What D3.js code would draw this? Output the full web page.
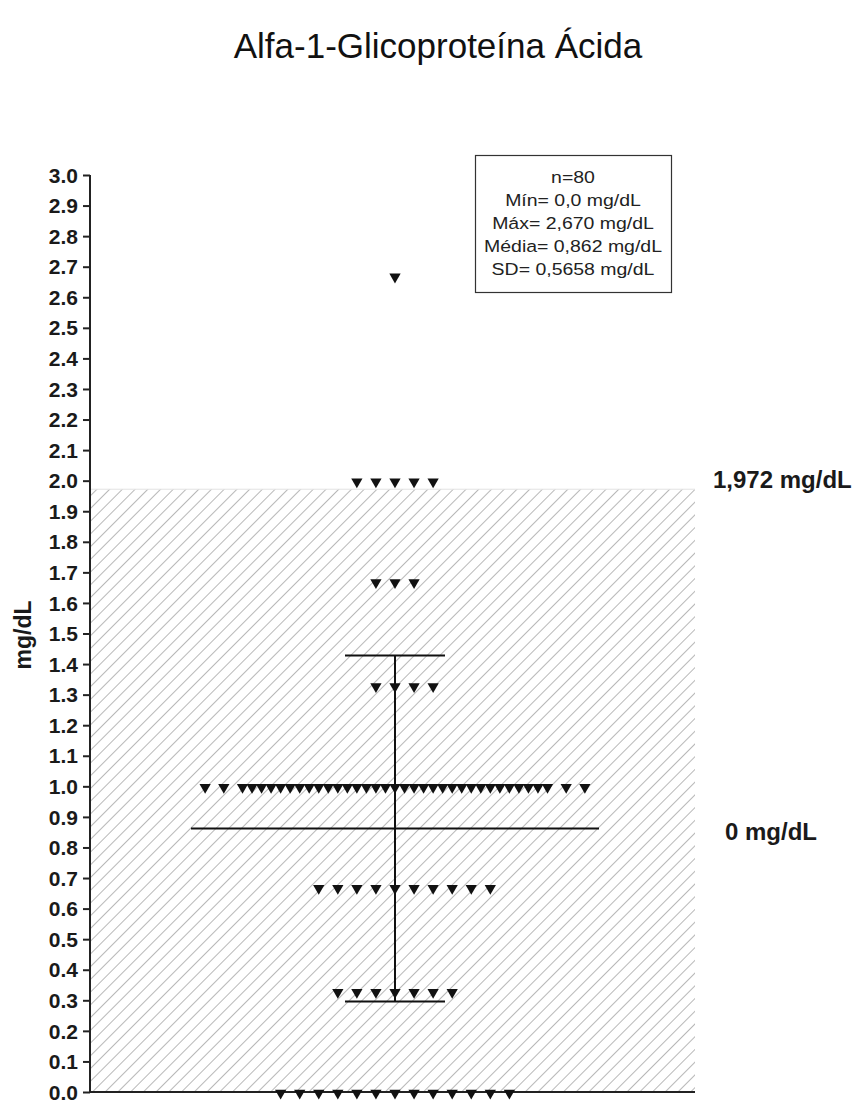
<!DOCTYPE html>
<html>
<head>
<meta charset="utf-8">
<script src="https://cdn.jsdelivr.net/npm/d3@7"></script>
<style>
  body { margin: 0; background: #fff; }
  text { font-family: Arial, "Liberation Sans", sans-serif; }
</style>
</head>
<body>
<svg id="chart" width="860" height="1100"></svg>
<script>
// Values.
var rowValues = [2.67, 2.0, 1.67, 1.33, 1.0, 0.67, 0.33, 0.0];
var rowCounts = [1, 5, 3, 4, 37, 10, 7, 13];
var meanValue = 0.862;
var sdValue = 0.5658;
var refUpper = 1.972;
var refLower = 0;
var yTicks = d3.range(0, 31).map(function(i) { return i / 10; });
var statLines = ['n=80', 'Mín= 0,0 mg/dL', 'Máx= 2,670 mg/dL', 'Média= 0,862 mg/dL', 'SD= 0,5658 mg/dL'];

var svg = d3.select('#chart');

var y = d3.scaleLinear().domain([0, 3]).range([1092, 175]);
// x in "slot" units around the column centre
var x = d3.scaleLinear().domain([-16, 16]).range([90, 700]);

// Title
svg.append('text')
  .attr('x', 438).attr('y', 58)
  .attr('text-anchor', 'middle')
  .attr('font-size', 35)
  .attr('fill', '#111')
  .text('Alfa-1-Glicoproteína Ácida');

// Hatch pattern for the reference range
var pat = svg.append('defs').append('pattern')
  .attr('id', 'hatch')
  .attr('patternUnits', 'userSpaceOnUse')
  .attr('width', 9).attr('height', 9)
  .attr('patternTransform', 'rotate(45)');
pat.append('line')
  .attr('x1', 0).attr('y1', 0).attr('x2', 0).attr('y2', 9)
  .attr('stroke', '#b8b8b8').attr('stroke-width', 2);

svg.append('rect')
  .attr('x', x(-16)).attr('y', y(refUpper))
  .attr('width', 695 - x(-16))
  .attr('height', y(refLower) - y(refUpper))
  .attr('fill', 'url(#hatch)');
svg.append('line')
  .attr('x1', x(-16)).attr('x2', 695)
  .attr('y1', y(refUpper)).attr('y2', y(refUpper))
  .attr('stroke', '#e2e2e2').attr('stroke-width', 1);

// Y axis
var yAxis = svg.append('g')
  .attr('transform', 'translate(' + x(-16) + ',0)')
  .call(d3.axisLeft(y).tickValues(yTicks).tickSize(7).tickPadding(5)
    .tickFormat(d3.format('.1f')));
yAxis.select('.domain').attr('stroke', '#222').attr('stroke-width', 2)
  .attr('d', 'M0,' + y(3) + 'V' + y(0));
yAxis.selectAll('.tick line').attr('stroke', '#222').attr('stroke-width', 2);
yAxis.selectAll('.tick text')
  .attr('font-family', 'Arial, "Liberation Sans", sans-serif')
  .attr('font-size', 21).attr('font-weight', 'bold').attr('fill', '#1a1a1a')
  .attr('dy', '0.34em');

// X baseline
svg.append('line')
  .attr('x1', x(-16)).attr('x2', 695)
  .attr('y1', y(0)).attr('y2', y(0))
  .attr('stroke', '#222').attr('stroke-width', 2);

svg.append('text')
  .attr('transform', 'translate(31,635) rotate(-90)')
  .attr('text-anchor', 'middle')
  .attr('font-size', 23).attr('font-weight', 'bold').attr('fill', '#1a1a1a')
  .text('mg/dL');

// Mean and SD
var cx = x(0);
svg.append('line').attr('x1', cx - 204).attr('x2', cx + 204)
  .attr('y1', y(meanValue)).attr('y2', y(meanValue))
  .attr('stroke', '#111').attr('stroke-width', 2);
svg.append('line').attr('x1', cx).attr('x2', cx)
  .attr('y1', y(meanValue + sdValue)).attr('y2', y(meanValue - sdValue))
  .attr('stroke', '#111').attr('stroke-width', 2);
[meanValue + sdValue, meanValue - sdValue].forEach(function(v) {
  svg.append('line').attr('x1', cx - 50).attr('x2', cx + 50)
    .attr('y1', y(v)).attr('y2', y(v))
    .attr('stroke', '#111').attr('stroke-width', 2);
});

// Scatter points: one row per value, spread sideways
var points = [];
rowValues.forEach(function(v, r) {
  var n = rowCounts[r];
  var lo = -Math.floor((n - 1) / 2);
  var hi = Math.ceil((n - 1) / 2);
  var wide = n > 15;
  var inner = hi - 2;
  for (var k = lo; k <= hi; k++) {
    var slot;
    if (!wide) slot = k;
    else if (Math.abs(k) <= inner) slot = k * 0.5;
    else slot = Math.sign(k) * (inner * 0.5 + (Math.abs(k) - inner) * 0.98);
    points.push({ value: v, slot: slot });
  }
});

svg.append('g').selectAll('path')
  .data(points)
  .enter().append('path')
    .attr('d', d3.symbol().type(d3.symbolTriangle).size(55))
    .attr('transform', function(d) {
      return 'translate(' + x(d.slot) + ',' + (y(d.value) + 1) + ') rotate(180)';
    })
    .attr('fill', '#111');

// Reference range labels
svg.append('text').attr('x', 713).attr('y', 488)
  .attr('font-size', 24).attr('font-weight', 'bold').attr('fill', '#1a1a1a')
  .text('1,972 mg/dL');
svg.append('text').attr('x', 725).attr('y', 840)
  .attr('font-size', 24).attr('font-weight', 'bold').attr('fill', '#1a1a1a')
  .text('0 mg/dL');

// Stats box
svg.append('rect').attr('x', 475.5).attr('y', 155.5)
  .attr('width', 196).attr('height', 137)
  .attr('fill', '#fff').attr('stroke', '#333').attr('stroke-width', 1.2);
svg.append('g')
    .attr('transform', 'translate(573,0) scale(1.18,1)')
  .selectAll('text')
  .data(statLines)
  .enter().append('text')
    .attr('x', 0)
    .attr('y', function(d, i) { return 183 + i * 23; })
    .attr('text-anchor', 'middle')
    .attr('font-size', 16.5).attr('fill', '#222')
    .text(function(d) { return d; });
</script>
</body>
</html>
